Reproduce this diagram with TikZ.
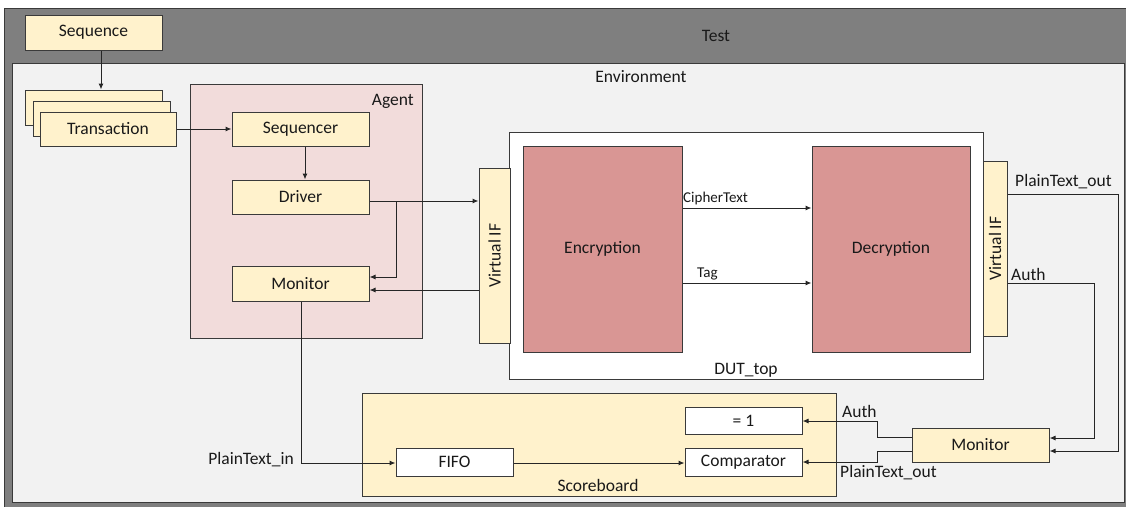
\documentclass[tikz,border=0pt]{standalone}
\usepackage{fontspec}
\setmainfont{Carlito}
\usetikzlibrary{arrows.meta,calc}
\definecolor{framegray}{HTML}{7F7F7F}
\definecolor{envgray}{HTML}{F2F2F2}
\definecolor{agentpink}{HTML}{F2DCDB}
\definecolor{boxyellow}{HTML}{FFF2CC}
\definecolor{cryptred}{HTML}{D99694}
\definecolor{edge}{HTML}{3A3A3A}
\tikzset{
  every node/.style={font=\fontsize{17.5}{20}\selectfont, text=black!90},
  smalltxt/.style={font=\fontsize{15}{18}\selectfont},
  frame/.style={draw=edge, line width=1pt},
  ybox/.style={frame, fill=boxyellow, inner sep=0pt},
  wbox/.style={frame, fill=white, inner sep=0pt},
  rbox/.style={frame, fill=cryptred, inner sep=0pt},
  conn/.style={draw=black!85, line width=1pt},
  arr/.style={conn, -{Latex[length=6pt,width=5pt]}},
  lbl/.style={inner sep=0pt},
}
\begin{document}
\begin{tikzpicture}[x=1pt,y=-1pt]
\useasboundingbox (0,0) rectangle (1126,506);
\clip (0,0) rectangle (1126,506);
\fill[white] (0,0) rectangle (1126,506);
% Test frame
\node[frame, fill=framegray, minimum width=1136pt, minimum height=512pt, inner sep=0pt, anchor=north west] (test) at (4,8) {};
\node[lbl, anchor=base] (testlbl) at (716,41) {Test};
% Environment
\node[frame, fill=envgray, minimum width=1112pt, minimum height=439pt, inner sep=0pt, anchor=north west] (env) at (12,63) {};
\node[lbl, anchor=base] (envlbl) at (641,82) {Environment};
% Sequence
\node[ybox, minimum width=137pt, minimum height=35pt] (seq) at (93.5,32.5) {Sequence};
% Transactions
\node[ybox, minimum width=137pt, minimum height=35pt] (tr1) at (93.5,107.5) {};
\node[ybox, minimum width=137pt, minimum height=35pt] (tr2) at (101.5,118.5) {};
\node[ybox, minimum width=136pt, minimum height=34pt] (tr3) at (108,129) {Transaction};
% Agent
\node[frame, fill=agentpink, minimum width=232pt, minimum height=254pt, inner sep=0pt] (agent) at (306,211) {};
\node[lbl, anchor=base east] (agentlbl) at (414,105) {Agent};
\node[ybox, minimum width=137pt, minimum height=34pt] (seqr) at (300.5,129) {Sequencer};
\node[ybox, minimum width=137pt, minimum height=34pt] (drv) at (300.5,197) {Driver};
\node[ybox, minimum width=137pt, minimum height=35pt] (mon) at (300.5,283.5) {Monitor};
% DUT
\node[frame, fill=white, minimum width=474pt, minimum height=247pt, inner sep=0pt] (dut) at (746,255.5) {};
\node[lbl, anchor=base] (dutlbl) at (746,374) {DUT\_top};
\node[rbox, minimum width=159pt, minimum height=206pt] (enc) at (602.5,249) {Encryption};
\node[rbox, minimum width=158pt, minimum height=206pt] (dec) at (891,249) {Decryption};
\node[ybox, minimum width=31pt, minimum height=175pt] (vif1) at (494.5,255.5) {};
\node[lbl, rotate=90] (vif1lbl) at (vif1) {Virtual IF};
\node[ybox, minimum width=24pt, minimum height=175pt] (vif2) at (995,248.5) {};
\node[lbl, rotate=90] (vif2lbl) at (vif2) {Virtual IF};
% Scoreboard
\node[ybox, minimum width=474pt, minimum height=103pt] (sb) at (599,444.5) {};
\node[lbl, anchor=base] (sblbl) at (598,491) {Scoreboard};
\node[wbox, minimum width=117pt, minimum height=27pt] (eq) at (743.5,420.5) {= 1};
\node[wbox, minimum width=117pt, minimum height=28pt] (cmp) at (743.5,462) {Comparator};
\node[wbox, minimum width=117pt, minimum height=28pt] (fifo) at (454.5,462) {FIFO};
% Monitor 2
\node[ybox, minimum width=137pt, minimum height=34pt] (mon2) at (980.5,445) {Monitor};

% Connectors
\draw[arr] (seq.south -| 101,0) -- (tr1.north -| 101,0);
\draw[arr] (tr3.east) -- (seqr.west);
\draw[arr] (seqr.south -| 305,0) -- (drv.north -| 305,0);
\coordinate (drvout) at ([yshift=-4pt]drv.east);
\draw[arr] (drvout) -- (vif1.west |- drvout);
\coordinate (br) at (396,0);
\draw[arr] (br |- drvout) -- (br |- 0,277) -- (mon.east |- 0,277);
\draw[arr] (vif1.west |- 0,290) -- (mon.east |- 0,290);
\draw[arr] (enc.east |- 0,208) -- (dec.west |- 0,208);
\draw[arr] (enc.east |- 0,283) -- (dec.west |- 0,283);
\node[lbl, smalltxt, anchor=base west] (ctlbl) at (683,202) {CipherText};
\node[lbl, smalltxt, anchor=base west] (taglbl) at (697,277) {Tag};
% Outputs of DUT
\draw[arr] (vif2.east |- 0,194) -- (1118,194) -- (1118,451) -- (mon2.east |- 0,451);
\draw[arr] (vif2.east |- 0,283) -- (1094,283) -- (1094,438) -- (mon2.east |- 0,438);
\node[lbl, anchor=base west] (ptolbl) at (1015,186) {PlainText\_out};
\node[lbl, anchor=base west] (authlbl) at (1011,280) {Auth};
% Monitor2 to scoreboard
\draw[arr] (mon2.west |- 0,437) -- (877,437) -- (877,421) -- (eq.east |- 0,421);
\draw[arr] (mon2.west |- 0,451) -- (877,451) -- (877,462) -- (cmp.east |- 0,462);
\node[lbl, anchor=base west] (auth2lbl) at (842,417) {Auth};
\node[lbl, anchor=base west] (pto2lbl) at (840,477) {PlainText\_out};
% Monitor to FIFO
\draw[arr] (mon.south -| 301,0) -- (301,463) -- (fifo.west |- 0,463);
\node[lbl, anchor=base east] (ptilbl) at (294,464) {PlainText\_in};
\draw[arr] (fifo.east |- 0,463) -- (cmp.west |- 0,463);
\end{tikzpicture}
\end{document}
